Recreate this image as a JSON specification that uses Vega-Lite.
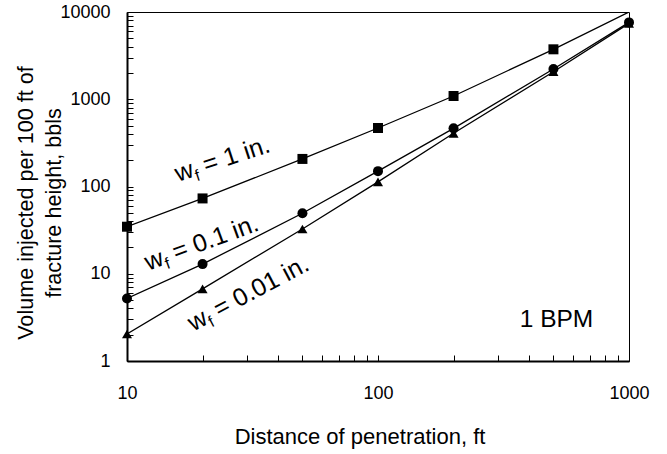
{
  "$schema": "https://vega.github.io/schema/vega-lite/v6.json",
  "width": 502,
  "height": 349,
  "autosize": "none",
  "padding": {"left": 127, "top": 12, "right": 38, "bottom": 93},
  "background": "white",
  "config": {
    "font": "Liberation Sans",
    "view": {"stroke": "black", "strokeWidth": 1},
    "axis": {
      "domainColor": "black",
      "domainWidth": 2,
      "tickColor": "black",
      "tickWidth": 1,
      "tickSize": -6,
      "labelColor": "black",
      "labelFontSize": 18,
      "labelOverlap": false,
      "labelFlush": false,
      "titleColor": "black",
      "titleFontWeight": "normal",
      "grid": false
    }
  },
  "datasets": {
    "series": [
      {"d": 10, "v": 34.6, "s": "1 in."},
      {"d": 20, "v": 73, "s": "1 in."},
      {"d": 50, "v": 207, "s": "1 in."},
      {"d": 100, "v": 468, "s": "1 in."},
      {"d": 200, "v": 1089, "s": "1 in."},
      {"d": 500, "v": 3735, "s": "1 in."},
      {"d": 1000, "v": 10000, "s": "1 in."},
      {"d": 10, "v": 5.2, "s": "0.1 in."},
      {"d": 20, "v": 12.9, "s": "0.1 in."},
      {"d": 50, "v": 49.3, "s": "0.1 in."},
      {"d": 100, "v": 150, "s": "0.1 in."},
      {"d": 200, "v": 464, "s": "0.1 in."},
      {"d": 500, "v": 2222, "s": "0.1 in."},
      {"d": 1000, "v": 7600, "s": "0.1 in."},
      {"d": 10, "v": 2.04, "s": "0.01 in."},
      {"d": 20, "v": 6.7, "s": "0.01 in."},
      {"d": 50, "v": 32.6, "s": "0.01 in."},
      {"d": 100, "v": 113, "s": "0.01 in."},
      {"d": 200, "v": 407, "s": "0.01 in."},
      {"d": 500, "v": 2070, "s": "0.01 in."},
      {"d": 1000, "v": 7400, "s": "0.01 in."}
    ],
    "labels": [
      {"d": 15.97, "v": 112.6, "s": "1 in.", "t": "= 1 in."},
      {"d": 12.16, "v": 10.84, "s": "0.1 in.", "t": "= 0.1 in."},
      {"d": 18.37, "v": 2.167, "s": "0.01 in.", "t": "= 0.01 in."}
    ],
    "note": [
      {"d": 367, "v": 2.47, "t": "1 BPM"}
    ]
  },
  "encoding": {
    "x": {
      "field": "d",
      "type": "quantitative",
      "scale": {"type": "log", "domain": [10, 1000]},
      "axis": {
        "values": [10, 20, 30, 40, 50, 60, 70, 80, 90, 100, 200, 300, 400, 500, 600, 700, 800, 900, 1000],
        "format": "d",
        "labelExpr": "datum.value == 10 || datum.value == 100 || datum.value == 1000 ? datum.label : ''",
        "labelPadding": 29,
        "title": "Distance of penetration, ft",
        "titleFontSize": 22,
        "titleX": 232.5,
        "titleY": 82,
        "titleAlign": "center",
        "titleBaseline": "alphabetic"
      }
    },
    "y": {
      "field": "v",
      "type": "quantitative",
      "scale": {"type": "log", "domain": [1, 10000]},
      "axis": {
        "values": [1, 2, 3, 4, 5, 6, 7, 8, 9, 10, 20, 30, 40, 50, 60, 70, 80, 90, 100, 200, 300, 400, 500, 600, 700, 800, 900, 1000, 2000, 3000, 4000, 5000, 6000, 7000, 8000, 9000, 10000],
        "format": "d",
        "labelExpr": "datum.value == 1 || datum.value == 10 || datum.value == 100 || datum.value == 1000 || datum.value == 10000 ? datum.label : ''",
        "labelPadding": 23,
        "title": ["Volume injected per 100 ft of", "fracture height, bbls"],
        "titleFontSize": 21.6,
        "titleLineHeight": 28,
        "titleAngle": -90,
        "titleX": -112,
        "titleY": 190.5,
        "titleAlign": "center",
        "titleBaseline": "top"
      }
    }
  },
  "layer": [
    {
      "data": {"name": "series"},
      "mark": {"type": "line", "color": "black", "strokeWidth": 1.3, "clip": true},
      "encoding": {"detail": {"field": "s"}}
    },
    {
      "data": {"name": "series"},
      "transform": [{"filter": "datum.v < 10000"}],
      "mark": {"type": "point", "filled": true, "color": "black", "opacity": 1, "size": 100},
      "encoding": {
        "shape": {
          "field": "s",
          "type": "nominal",
          "scale": {"domain": ["1 in.", "0.1 in.", "0.01 in."], "range": ["square", "circle", "triangle-up"]},
          "legend": null
        }
      }
    },
    {
      "data": {"name": "labels"},
      "transform": [{"filter": "datum.s == '1 in.'"}],
      "layer": [
        {"mark": {"type": "text", "text": "w", "angle": -18, "align": "left", "baseline": "alphabetic", "fontSize": 25, "color": "black"}},
        {"mark": {"type": "text", "text": "f", "angle": -18, "align": "left", "baseline": "alphabetic", "fontSize": 16, "dx": 18.2, "dy": 5, "color": "black"}},
        {"mark": {"type": "text", "angle": -18, "align": "left", "baseline": "alphabetic", "fontSize": 25, "dx": 29.5, "color": "black"}, "encoding": {"text": {"field": "t"}}}
      ]
    },
    {
      "data": {"name": "labels"},
      "transform": [{"filter": "datum.s == '0.1 in.'"}],
      "layer": [
        {"mark": {"type": "text", "text": "w", "angle": -20, "align": "left", "baseline": "alphabetic", "fontSize": 25, "color": "black"}},
        {"mark": {"type": "text", "text": "f", "angle": -20, "align": "left", "baseline": "alphabetic", "fontSize": 16, "dx": 18.2, "dy": 5, "color": "black"}},
        {"mark": {"type": "text", "angle": -20, "align": "left", "baseline": "alphabetic", "fontSize": 25, "dx": 29.5, "color": "black"}, "encoding": {"text": {"field": "t"}}}
      ]
    },
    {
      "data": {"name": "labels"},
      "transform": [{"filter": "datum.s == '0.01 in.'"}],
      "layer": [
        {"mark": {"type": "text", "text": "w", "angle": -28, "align": "left", "baseline": "alphabetic", "fontSize": 25, "color": "black"}},
        {"mark": {"type": "text", "text": "f", "angle": -28, "align": "left", "baseline": "alphabetic", "fontSize": 16, "dx": 18.2, "dy": 5, "color": "black"}},
        {"mark": {"type": "text", "angle": -28, "align": "left", "baseline": "alphabetic", "fontSize": 25, "dx": 29.5, "color": "black"}, "encoding": {"text": {"field": "t"}}}
      ]
    },
    {
      "data": {"name": "note"},
      "mark": {"type": "text", "align": "left", "baseline": "alphabetic", "fontSize": 24.5, "color": "black"},
      "encoding": {"text": {"field": "t"}}
    }
  ]
}
